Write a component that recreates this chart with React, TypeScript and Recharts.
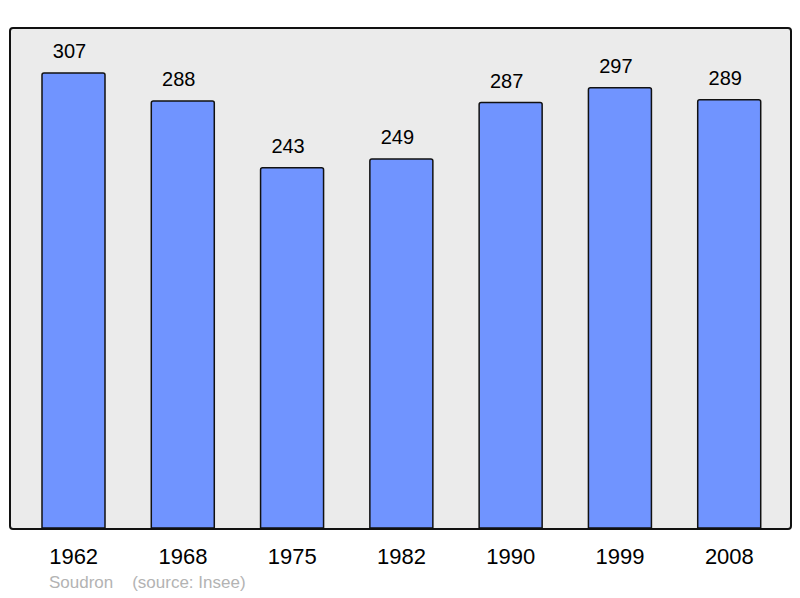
import React from 'react';
import { BarChart, Bar, XAxis, YAxis, LabelList } from 'recharts';

const years = ['1962', '1968', '1975', '1982', '1990', '1999', '2008'];
const population = [307, 288, 243, 249, 287, 297, 289];

const data = years.map((year, i) => ({ year, pop: population[i] }));

const FONT = '"Liberation Sans", Arial, sans-serif';

export default function App() {
    return (
        <div style={{ position: 'absolute', left: 0, top: 0, width: 800, height: 598, background: '#fff', fontFamily: FONT }}>
            <div
                style={{
                    position: 'absolute', left: 9, top: 27, width: 779, height: 499,
                    background: '#ebebeb', border: '2px solid #111', borderRadius: 4,
                }}
            />
            <div style={{ position: 'absolute', left: 0, top: 0 }}>
                <BarChart width={800} height={598} data={data} margin={{ top: 27, right: 16, left: 19, bottom: 30 }}>
                    <XAxis
                        dataKey="year" axisLine={false} tickLine={false} height={40} tickMargin={14}
                        tick={{ fill: '#000', fontSize: 22, fontFamily: FONT }} interval={0}
                    />
                    <YAxis hide domain={[0, 338]} />
                    <Bar dataKey="pop" barSize={63} fill="#7094ff" stroke="#111" strokeWidth={1.5} radius={[2, 2, 0, 0]} isAnimationActive={false}>
                        <LabelList dataKey="pop" position="top" offset={15} dx={-4} style={{ fill: '#000', fontSize: 20, fontFamily: FONT }} />
                    </Bar>
                </BarChart>
            </div>
            <div style={{ position: 'absolute', left: 49, top: 573, fontSize: 17, color: '#b3b3b3', whiteSpace: 'pre' }}>
                {'Soudron    (source: Insee)'}
            </div>
        </div>
    );
}
